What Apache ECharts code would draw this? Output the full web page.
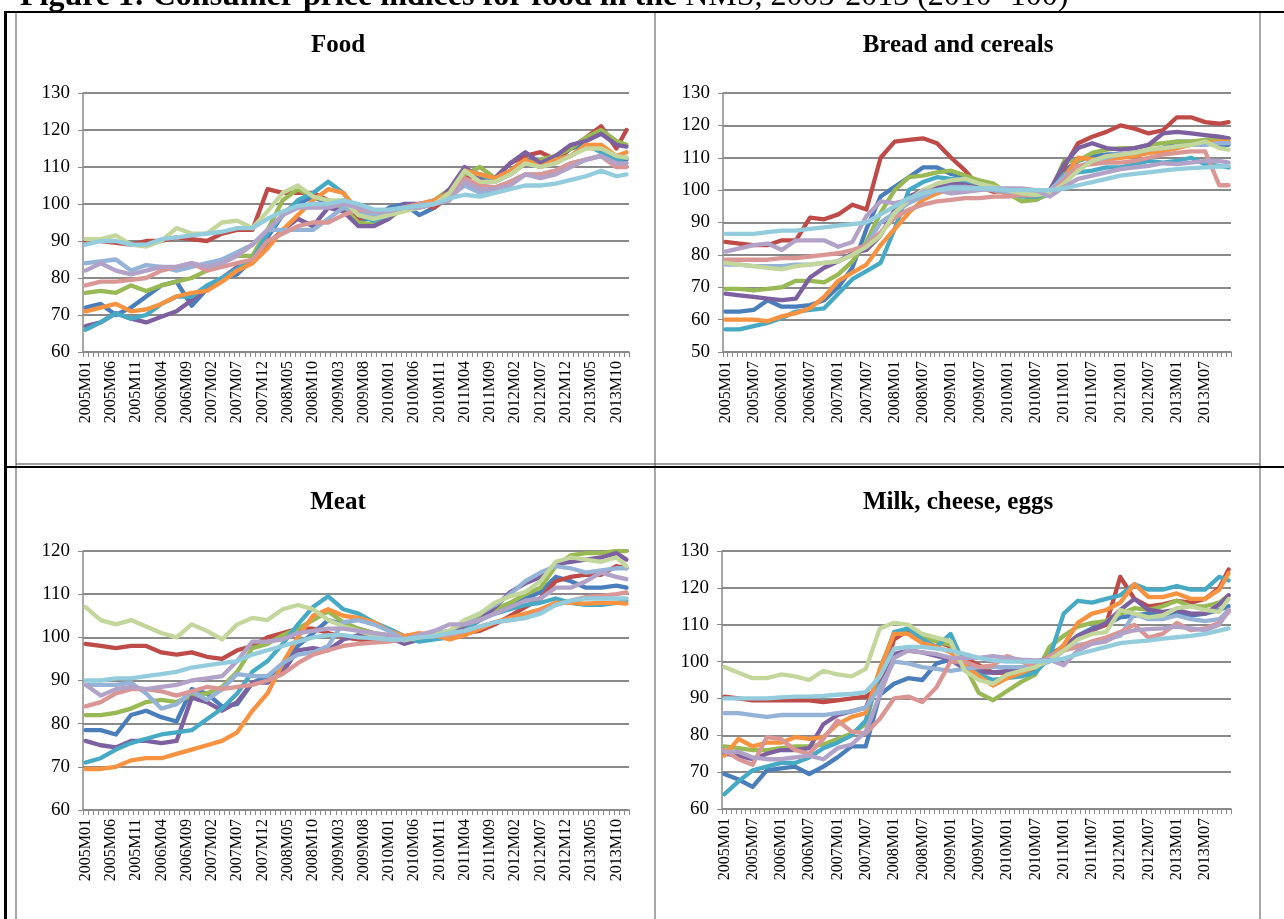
<!DOCTYPE html>
<html lang="en">
<head>
<meta charset="utf-8">
<title>Consumer price indices for food in the NMS</title>
<script src="https://cdn.jsdelivr.net/npm/echarts/dist/echarts.min.js"></script>
<style>
  html, body { margin: 0; padding: 0; background: #fff; }
  #main { width: 1284px; height: 919px; }
</style>
</head>
<body>
<div id="main"></div>
<script>
// months on the category axes: 2005M01 .. 2013M12
var months = [];
for (var yr = 2005; yr <= 2013; yr++) {
    for (var mo = 1; mo <= 12; mo++) {
        months.push(yr + 'M' + (mo < 10 ? '0' + mo : mo));
    }
}

// month index of every value (about one per quarter)
var sampleMonths = [0,3,6,9,12,15,18,21,24,27,30,33,36,39,42,45,48,51,54,57,60,63,66,69,72,75,78,81,84,87,90,93,96,99,102,105,107];

// line colours, in series order
var colors = ['#4a7ebb','#be4b48','#98b954','#7d60a0','#46aac5','#f69240','#95b3d7','#d99694','#c3d69b','#b3a2c7','#93cddd'];

// Food
var foodRows = [
    [72,73,70,72,75,78,79,72.5,77,80,81,85,91,97,100,102,100,99,96,96,99,100,97,99,103,109,108,106,109,112,112,112,115,116,115,111,112],
    [90,90,89.5,89,90,90,91,90.5,90,92,93,93,104,103,103,103,101,99,96,97,98,99,100,99,102,107,108,107,111,113,114,112,115,118,121,115,120],
    [76,76.5,76,78,76.5,78,79,80,82,85,86,86,93,101,104,102,101,99,95,94.5,96,99,99,101,104,108,110,107,108,111,112,113,115,118,120,117,116],
    [67,68,70.5,69,68,69.5,71,74,77,80,83,84,89,93,96,94,99,98,94,94,96,100,100,100,104,110,107,107,111,114,111,113,116,117,119,116,115.5],
    [66,68,70.5,69,70,73,75,75,78,80,82.5,85,92,97,101,103,106,103,97,95.5,97,99,100,101,103,109,108,106,108,111,110,112,113,116,114,112,112.5],
    [71,72,73,71,71.5,73,75,76,76.5,79,82,84,88,93,97,101,104,103,98,97,98,99,100,101,103,109,108,107,109,112,110,112,113,116,116,113,114],
    [84,84.5,85,82,83.5,83,82,83,84,85,87,89,93,93,93,93,96,99,98,97,98,99,99,100,102,105,103,104,106,108,108,109,111,112,113,110,111],
    [78,79,79,79.5,80,82,83,84,82,83,84,85,90,92,94,95,95,97,98.5,98,98,99,100,100,102,107,105,104.5,106,108,108,109,111,112,113,110,110],
    [90.5,90.5,91.5,89,88.5,90,93.5,92,92,95,95.5,93.5,98,103,105,102,101,101,97,96,97,98,99,100,103,109,106,106,108,111,110,111,113,115,115,113,112.5],
    [82,84,82,81,82,83,83,84,83,84,86,89,93,97,99,99,99,100,99,98,98,99,99,100,101,106,104,104,105,108,107,108,110,112,113,111,111],
    [89,90,90,89,89,90.5,91,91.5,92,92.5,93.5,93.5,96,98,99.5,100,100,101,100,98.5,98.5,99,99.5,100,101.5,102.5,102,103,104,105,105,105.5,106.5,107.5,109,107.5,108]
];

// Bread and cereals
var breadRows = [
    [62.5,62.5,63,66,64,64,64.5,66,70,76,88,98,101,104,107,107,105,104,102,101,99,98.5,97,99,106,109,110.5,111,111,111.5,112,113,115,115,114.5,114,114],
    [84,83.5,83,83,84.5,84.5,91.5,91,92.5,95.5,94,110,115,115.5,116,114.5,110,106,101,99.5,100,100,99.5,100,107,114.5,116.5,118,120,119,117.5,118.5,122.5,122.5,121,120.5,121],
    [69.5,69.5,69,69.5,70,72,72,71.5,74,78,84,93,100,104,104.5,105.5,106,104.5,103,102,99,96.5,97,99,109,109,111.5,112.5,113,113,114,114.5,115,115,115.5,116,116],
    [68,67.5,67,66.5,66,66.5,73,76,78,80.5,81.5,86,94,98,100,101,102,102,101.5,100.5,99.5,99,98,100,108,113,114.5,113,112.5,113,114,117.5,118,117.5,117,116.5,116],
    [57,57,58,59,60.5,62.5,63,63.5,68,72.5,75,77.5,88,100,102.5,104,103.5,103,102,100,99,98,98,99,105,105.5,106,107,107,108,109,108.5,109,110,108,107.5,107],
    [60,60,60,59.5,61,62,63.5,67,72,74.5,77,83,88,93,97,99,100.5,101,100.5,100,99,98.5,98.5,99.5,104,110,109.5,109.5,110,110.5,111.5,112,113,114,114.5,115,115],
    [77,77,76.5,76.5,76.5,77,77,77.5,78,80,83,90,93,96,98,100,101,101,100.5,100,99.5,99,99,100,104,107,109,110,111,111.5,112.5,113,113.5,114,114,114.5,114.5],
    [78.5,78.5,78.5,78.5,79,79,79.5,80,80.5,81.5,83,87,91.5,94,95.5,96.5,97,97.5,97.5,98,98,98.5,98.5,99,103,107.5,108,108.5,108.5,109,110,111,111.5,112,112,101.5,101.5],
    [77.5,77,76.5,76,75.5,76.5,77,77.5,78,80,82.5,86,93,97,100,102,103,103.5,102,101,100,99,98.5,99,102,106,109,110.5,111,111.5,112.5,113,113.5,114,115,113,112.5],
    [81,82,83,83.5,81.5,84.5,84.5,84.5,82.5,84,92,96.5,96,97,99.5,100,99,99.5,100,100.5,100.5,100.5,100,98,101,103.5,104.5,105.5,106.5,107,107.5,108.3,108,108.5,109,109,108.5],
    [86.5,86.5,86.5,87,87.5,87.5,88,88.5,89,89.5,90,92.5,95,97.5,99,100,100.5,100.5,100.5,100.5,100,100,100,100,100.5,101.5,102.5,103.5,104.5,105,105.5,106,106.5,106.8,107,107.3,107.5]
];

// Meat
var meatRows = [
    [78.5,78.5,77.5,82,83,81.5,80.5,88,87,84,84.5,89.5,91,93,98,101,104,103,102,101,100,99.8,100.5,100.5,101,102.5,104,106,107.5,109,110.5,114,113,111.5,111.5,112,111.5],
    [98.5,98,97.5,98,98,96.5,96,96.5,95.5,95,97,98,100,101,102,102,101,100,99.5,99,99.5,99.5,100,100,100.5,101,101.5,103,105,107,109,113,114,114.5,114.5,116.5,116],
    [82,82,82.5,83.5,85,85.5,85,86.5,87,88.5,92,97.5,98.5,100.5,102,104,106,103.5,102,101,100.5,99.5,100,100.5,101.5,102.5,104.5,106.5,108,110,111.5,116.5,119,119.5,119.5,120,120],
    [76,75,74.5,76,76,75.5,76,86,85,83,85,89.5,89.5,92,97,97.5,97,99.5,100.5,100.5,100,98.5,99.5,100.5,101,102,104,107,110.5,112.5,114,117,117.5,118,118.5,119.5,118],
    [71,72,74,75.5,76.5,77.5,78,78.5,81,83.5,87,92,94.5,98.5,103,107,109.5,106.5,105.5,103.5,102,100.3,99,99.5,100,101.5,104,105.5,106.5,107.5,108,109,108,107.5,107.5,108,108.5],
    [69.5,69.5,70,71.5,72,72,73,74,75,76,78,83,87,94,100,105,106.5,105,104.5,103.5,101.5,100.3,101,100.5,99.5,100.5,102,103.5,104.5,105.5,106.5,108,108,107.8,108,108,107.8],
    [89,89,89,89.5,87,83.5,84.5,87.5,85.5,88,91.5,91,91,94,96,96.5,98,103.5,104,103,101.5,99.5,100.5,101,101.5,103.5,105.5,107.5,110,113,115,116.5,116,115,115.5,116,116],
    [84,85,87,88,88,87.5,86.5,87.5,88.5,88,88.5,89,90,91.5,94,96,97,98,98.5,98.8,99,99.5,100,100.3,100.5,101.5,102.5,103.5,104,104.5,106,107.5,108.5,109.3,109.6,110,110.4],
    [107,104,103,104,102.5,101,100,103,101.5,99.5,103,104.5,104,106.5,107.5,106.5,104,102.5,101.5,100.5,100.5,99.3,100,100.5,101.5,104,105.5,108,109.5,110.5,113,117.5,118.5,118,117.5,118.5,116.5],
    [89,86.5,88,88.5,88,88.5,89,90,90.5,91,94.5,99,99,99.5,101,101.5,102,102,101.5,101,100.5,99.5,100.5,101.5,103,103,104,105.5,107,108.5,109,111.5,111.5,113,115,114,113.5],
    [90,90,90.5,90.5,91,91.5,92,93,93.5,94,94.5,96,97,98,99,100,100.5,100.5,100,99.8,99.5,99.5,100,100.3,101,101.5,102.5,103.5,104,104.5,105.5,107.5,108.5,109,109,109,109]
];

// Milk, cheese, eggs
var milkRows = [
    [69.5,68,66,70.5,71,71.5,69.5,71.5,74,77,77,91,94,95.5,95,99.5,100.5,99.5,98,97,97,96.5,98,102,104,107,109,110,112,112.5,113,112.5,113,112.5,113,114,115],
    [90.5,90,89.5,89.5,89.5,89.5,89.5,89,89.5,90,90.5,93,106,108.5,107,105.5,104,101,99,97,97,98,99,101.5,104,106.5,108.5,110,123,117,115,115.5,116.5,116,117,120,125],
    [77,76.5,76,76,76.5,77,77,77.5,79,80.5,83,98,107.5,109,107,105.5,104.5,99,91.5,89.5,92,94.5,96.5,104,107,109.5,110.5,111,113,114.5,114,115,116.5,115,115,116,118],
    [75,74.5,73.5,75,76,76,76.5,83,85.5,86.5,87.5,96,102,103,102.5,101.5,100.5,98,97,97,97.5,98,99,101.5,104,107,108.5,110.5,114,117,114,113.5,114,113,113,115.5,118],
    [64,67.5,70.5,71.5,72.5,72.5,74,76.5,78,80,84,97,108,109,106,104,107.5,99,96.5,95,95.5,96,97,101,113,116.5,116,117,118,121,119.5,119.5,120.5,119.5,119.5,123,122],
    [74.5,79,77,78,78,79.5,79,79.5,83,85,86,98,107.5,107.5,105,104,102.5,99,96,93.5,95.5,97,98.5,101,104.5,110.5,113,114,116,121,117.5,117.5,118.5,117,117,119.5,124],
    [86,86,85.5,85,85.5,85.5,85.5,85.5,86,86.5,87.5,93,100,99.5,98.5,98,97.5,98,98.5,98.5,98.5,98.5,99,100,103,104.5,105,106,107,113,111.5,111.5,112.5,111.5,111,111.5,114],
    [76,73.5,72,79.5,79,76,75,79,84,81,80.5,84.5,90,90.5,89,93,100,100,98.5,99,101.5,100,98.5,101.5,103,104,105.5,106.5,108,110,106.5,107.5,110.5,108.5,109,110.5,113.5],
    [98.5,97,95.5,95.5,96.5,96,95,97.5,96.5,96,98,109,110.5,110,107.5,106.5,105.5,97.5,95,94,96.5,97.5,98.5,100.5,103,106,107.5,108,114,113,112,112.5,114.5,115,114,113.5,117],
    [75.5,75.5,74,73.5,73.5,74,74.5,73.5,76.5,77.5,81,91,101,103,102.5,102,101,101,101,101.5,101,100.5,100.3,100.5,99,103,104.8,105.5,107.5,108.5,108.8,109,109.5,109,108.5,110,114],
    [90,90,90,90,90.3,90.5,90.5,90.7,91,91.2,91.7,96,103.5,104,104,103.5,103,102,101,100.3,100,100,100,100.2,100.8,102,103,104,105,105.4,105.7,106.2,106.6,107,107.5,108.4,109]
];

// panel titles and y ranges
var panelTitles = ['Food', 'Bread and cereals', 'Meat', 'Milk, cheese, eggs'];
var yMins = [60, 50, 60, 60];
var yMaxs = [130, 130, 120, 130];
var labelEvery = [5, 6, 5, 6];

var serif = '"Liberation Serif", "Times New Roman", serif';
var gridGray = '#8a8a8a';

var grids = [
    {left: 83, top: 93, width: 546, height: 259},
    {left: 723, top: 93, width: 508, height: 259},
    {left: 83, top: 551, width: 546, height: 259},
    {left: 722, top: 551, width: 509, height: 258}
];

var chart = echarts.init(document.getElementById('main'));

var xAxes = [], yAxes = [], series = [];
[foodRows, breadRows, meatRows, milkRows].forEach(function (rows, gi) {
    xAxes.push({
        type: 'category',
        gridIndex: gi,
        data: months,
        boundaryGap: true,
        axisLine: {show: true, lineStyle: {color: gridGray, width: 1.5}},
        axisTick: {show: true, interval: 0, length: 5, lineStyle: {color: gridGray, width: 1}},
        axisLabel: {
            interval: labelEvery[gi] - 1, rotate: 90, margin: 9,
            color: '#000', fontFamily: serif, fontSize: 16
        },
        splitLine: {show: false}
    });
    yAxes.push({
        type: 'value',
        gridIndex: gi,
        min: yMins[gi],
        max: yMaxs[gi],
        interval: 10,
        axisLine: {show: true, lineStyle: {color: gridGray, width: 1.5}},
        axisTick: {show: true, length: 5, lineStyle: {color: gridGray}},
        axisLabel: {margin: 13, color: '#000', fontFamily: serif, fontSize: 19},
        splitLine: {show: true, lineStyle: {color: gridGray, width: 1.8}}
    });
    rows.forEach(function (row, k) {
        series.push({
            type: 'line',
            xAxisIndex: gi,
            yAxisIndex: gi,
            data: sampleMonths.map(function (m, j) { return [months[m], row[j]]; }),
            symbol: 'none',
            silent: true,
            lineStyle: {width: 4.3, color: colors[k], cap: 'round', join: 'round'},
            itemStyle: {color: colors[k]}
        });
    });
});

// table rules and titles
function rule(x1, y1, x2, y2, color, w) {
    return {type: 'line', shape: {x1: x1, y1: y1, x2: x2, y2: y2},
            style: {stroke: color, lineWidth: w}, silent: true, z: 100};
}
function heading(text, x, y) {
    return {type: 'text', x: x, y: y, silent: true, z: 100,
            style: {text: text, font: 'bold 25px ' + serif, fill: '#000',
                    align: 'center', verticalAlign: 'middle',
                    textAlign: 'center', textVerticalAlign: 'middle'}};
}

var graphics = [
    {type: 'text', x: 20, y: 13, silent: true, z: 90,
     style: {text: '{b|Figure 1: Consumer price indices for food in the }{n|NMS, 2005-2013 (2010=100)}',
             verticalAlign: 'bottom', textVerticalAlign: 'bottom',
             rich: {b: {font: 'bold 32px ' + serif, fill: '#000'},
                    n: {font: '32px ' + serif, fill: '#000'}}}},
    {type: 'rect', shape: {x: 0, y: 13, width: 1284, height: 6}, style: {fill: '#fff'}, silent: true, z: 95},
    rule(5, 12, 1284, 12, '#000', 2),
    rule(5.5, 11, 5.5, 919, '#000', 3),
    rule(16, 13, 16, 919, gridGray, 1.5),
    rule(655, 13, 655, 919, gridGray, 1.5),
    rule(1260, 13, 1260, 919, gridGray, 1.5),
    rule(16, 464, 1260, 464, '#444', 1.2),
    rule(5, 467, 1284, 467, '#000', 2),
    heading(panelTitles[0], 338, 46),
    heading(panelTitles[1], 958, 46),
    heading(panelTitles[2], 338, 503),
    heading(panelTitles[3], 958, 503)
];

chart.setOption({
    animation: false,
    backgroundColor: '#fff',
    grid: grids,
    xAxis: xAxes,
    yAxis: yAxes,
    series: series,
    graphic: graphics
});
</script>
</body>
</html>
